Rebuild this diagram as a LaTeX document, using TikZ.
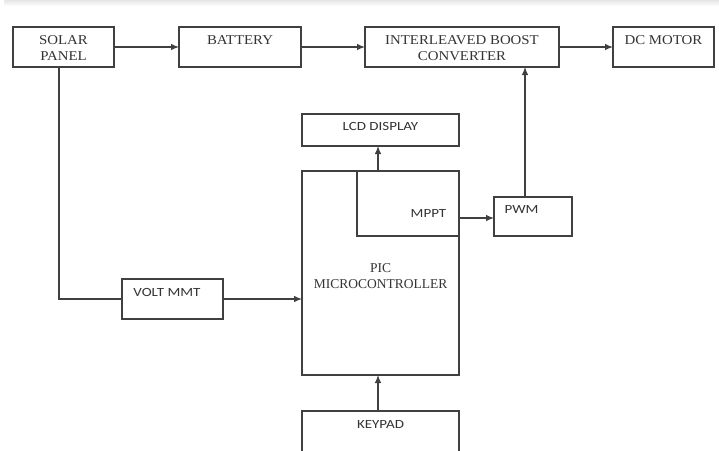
\documentclass[tikz,border=0pt]{standalone}
\usepackage{fontspec}
\setmainfont{Liberation Serif}
\newfontfamily\widser{Liberation Serif}[FakeStretch=1.1]
\newfontfamily\calib{Carlito}[FakeStretch=1.2]
\usetikzlibrary{arrows.meta,calc}
\tikzset{
  box/.style={draw=black!75, line width=1.1pt, rectangle, inner sep=0pt, outer sep=0pt, anchor=north west},
  serif/.style={font=\fontsize{13.5}{16}\selectfont, text=black!80, align=center, inner sep=0pt},
  wserif/.style={font=\widser\fontsize{13.5}{16}\selectfont, text=black!80, align=center, inner sep=0pt},
  sans/.style={font=\calib\fontsize{12.5}{15}\selectfont, text=black!80, align=center, inner sep=0pt},
  arr/.style={draw=black!75, line width=1.1pt, -{Latex[length=8pt,width=6.5pt]}},
  wire/.style={draw=black!75, line width=1.1pt},
}
\newcommand\mybox[5]{\node[box, minimum width=#4pt-#2pt, minimum height=#5pt-#3pt] (#1) at (#2,#3) {};}
\begin{document}
\begin{tikzpicture}[x=1pt,y=-1pt]
\useasboundingbox (0,0) rectangle (719,450);
\clip (0,0) rectangle (719,450);
\fill[top color=black!10, bottom color=white, draw=none] (4,0) rectangle (719,6);
% boxes
\mybox{solar}{13}{27}{114}{67}
\mybox{battery}{179}{27}{301}{67}
\mybox{ibc}{365}{27}{559}{67}
\mybox{motor}{613}{27}{714}{67}
\mybox{lcd}{302}{114}{459}{146}
\mybox{pic}{302}{171}{459}{375}
\mybox{mppt}{357}{171}{459}{236}
\mybox{pwm}{494}{197}{572}{236}
\mybox{volt}{122}{279}{223}{319}
\mybox{keypad}{302}{411}{459}{460}
% texts
\node[wserif] (tsolar) at (63.5,48) {SOLAR\\PANEL};
\node[wserif] (tbattery) at (240,40) {BATTERY};
\node[wserif] (tibc) at (462,48) {INTERLEAVED BOOST\\CONVERTER};
\node[wserif] (tmotor) at (663.5,40) {DC MOTOR};
\node[sans] (tlcd) at (380.5,126.5) {LCD DISPLAY};
\node[serif] (tpic) at (380.5,276) {PIC\\MICROCONTROLLER};
\node[sans] (tmppt) at (428.5,213.5) {MPPT};
\node[sans] (tpwm) at (521.5,209.5) {PWM};
\node[sans] (tvolt) at (167,292) {VOLT MMT};
\node[sans] (tkey) at (380.5,424) {KEYPAD};
% helper coordinates
\coordinate (xpwm) at (525,0);
\coordinate (xmid) at (378,0);
\coordinate (xsol) at (59,0);
\coordinate (ymppt) at (0,218);
% connectors
\draw[arr] (solar.east) -- (battery.west);
\draw[arr] (battery.east) -- (ibc.west);
\draw[arr] (ibc.east) -- (motor.west);
\draw[arr] (pwm.north -| xpwm) -- (ibc.south -| xpwm);
\draw[arr] (mppt.east |- ymppt) -- (pwm.west |- ymppt);
\draw[arr] (pic.north -| xmid) -- (lcd.south -| xmid);
\draw[wire] (solar.south -| xsol) |- (volt.west);
\draw[arr] (volt.east) -- (volt.east -| pic.west);
\draw[arr] (keypad.north -| xmid) -- (pic.south -| xmid);
\end{tikzpicture}
\end{document}
